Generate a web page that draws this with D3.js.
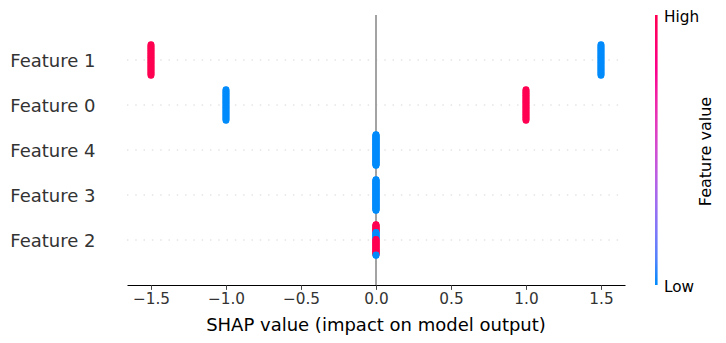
<!DOCTYPE html>
<html>
<head>
<meta charset="utf-8">
<script src="https://cdn.jsdelivr.net/npm/d3@7"></script>
<style>
  body { margin: 0; background: #fff; }
  svg { display: block; font-family: "DejaVu Sans", sans-serif; }
</style>
</head>
<body>
<svg id="chart"></svg>
<script>
const width = 726;
const height = 343;

// features from top to bottom (mean |SHAP| order)
const features = ["Feature 1", "Feature 0", "Feature 4", "Feature 3", "Feature 2"];

// point groups per feature: [shap value, feature value (0 low .. 1 high), number of points]
// groups of the same feature and same shap value are stacked top to bottom in this order
const groupsF1 = [[-1.5, 1, 50], [1.5, 0, 50]];
const groupsF0 = [[-1.0, 0, 50], [1.0, 1, 50]];
const groupsF4 = [[0, 0, 100]];
const groupsF3 = [[0, 0, 100]];
const groupsF2 = [[0, 1, 25], [0, 0, 22], [0, 1, 50], [0, 0, 3]];
const featureGroups = [groupsF1, groupsF0, groupsF4, groupsF3, groupsF2];

const xTicks = [-1.5, -1.0, -0.5, 0.0, 0.5, 1.0, 1.5];
const xLabel = "SHAP value (impact on model output)";
const colorLabel = "Feature value";
const colorLow = "Low";
const colorHigh = "High";

const margin = { top: 15, right: 101, bottom: 58, left: 127 };

const svg = d3.select("#chart").attr("width", width).attr("height", height);

const x = d3.scaleLinear()
  .domain([-1.66, 1.66])
  .range([margin.left, width - margin.right]);

// row index: bottom feature = 0
const y = d3.scaleLinear()
  .domain([-1, features.length])
  .range([height - margin.bottom, margin.top]);

const rowY = (i) => y(features.length - 1 - i);

const color = d3.interpolateHcl("#008bfb", "#ff0052");

// dotted row guides
svg.append("g")
  .selectAll("line")
  .data(features)
  .join("line")
  .attr("x1", margin.left)
  .attr("x2", width - margin.right)
  .attr("y1", (d, i) => rowY(i))
  .attr("y2", (d, i) => rowY(i))
  .attr("stroke", "#cccccc")
  .attr("stroke-width", 0.8)
  .attr("stroke-dasharray", "1.4 6.9");

// zero line
svg.append("line")
  .attr("x1", x(0)).attr("x2", x(0))
  .attr("y1", margin.top).attr("y2", height - margin.bottom)
  .attr("stroke", "#999999")
  .attr("stroke-width", 1.8);

// expand groups into stacked points
const spread = 0.345; // half height of a stack, in row units
const points = [];
featureGroups.forEach((groups, fi) => {
  const byShap = d3.group(groups, (g) => g[0]);
  byShap.forEach((gs, shap) => {
    const total = d3.sum(gs, (g) => g[2]);
    let k = 0;
    gs.forEach((g) => {
      for (let j = 0; j < g[2]; j++, k++) {
        const off = total > 1 ? spread - (2 * spread * k) / (total - 1) : 0;
        points.push({ fi, shap, value: g[1], off });
      }
    });
  });
});

svg.append("g")
  .selectAll("circle")
  .data(points)
  .join("circle")
  .attr("cx", (d) => x(d.shap))
  .attr("cy", (d) => y(features.length - 1 - d.fi + d.off))
  .attr("r", 3.3)
  .attr("fill", (d) => color(d.value));

// x axis
const xAxis = svg.append("g")
  .attr("transform", `translate(0, ${height - margin.bottom})`)
  .call(d3.axisBottom(x).tickValues(xTicks).tickSize(4.9).tickSizeOuter(0)
    .tickFormat((d) => d3.format(".1f")(d).replace("-", "\u2212")));
xAxis.select(".domain").attr("stroke", "#000").attr("stroke-width", 1);
xAxis.selectAll(".tick line").attr("stroke", "#333333").attr("stroke-width", 0.9);
xAxis.selectAll(".tick text")
  .attr("fill", "#333333")
  .attr("font-size", "15.3px")
  .attr("font-family", "DejaVu Sans")
  .attr("y", 8.5);

svg.append("text")
  .attr("x", x(0))
  .attr("y", 324)
  .attr("text-anchor", "middle")
  .attr("dominant-baseline", "central")
  .attr("font-size", "18px")
  .attr("fill", "#000")
  .text(xLabel);

// y labels
svg.append("g")
  .selectAll("text")
  .data(features)
  .join("text")
  .attr("x", 95.5)
  .attr("y", (d, i) => rowY(i))
  .attr("text-anchor", "end")
  .attr("dominant-baseline", "central")
  .attr("font-size", "18px")
  .attr("fill", "#333333")
  .text((d) => d);

// colour bar
const defs = svg.append("defs");
const grad = defs.append("linearGradient")
  .attr("id", "cbar")
  .attr("x1", 0).attr("y1", 1).attr("x2", 0).attr("y2", 0);
d3.range(0, 1.0001, 0.1).forEach((t) => {
  grad.append("stop").attr("offset", t).attr("stop-color", color(t));
});

const cbX = 655;
svg.append("rect")
  .attr("x", cbX)
  .attr("y", margin.top)
  .attr("width", 2.6)
  .attr("height", height - margin.bottom - margin.top)
  .attr("fill", "url(#cbar)");

svg.append("text")
  .attr("x", 664)
  .attr("y", 17)
  .attr("dominant-baseline", "central")
  .attr("font-size", "15.3px")
  .attr("fill", "#000")
  .text(colorHigh);

svg.append("text")
  .attr("x", 664)
  .attr("y", 286.5)
  .attr("dominant-baseline", "central")
  .attr("font-size", "15.3px")
  .attr("fill", "#000")
  .text(colorLow);

svg.append("text")
  .attr("transform", `translate(705, 151.5) rotate(-90)`)
  .attr("text-anchor", "middle")
  .attr("dominant-baseline", "central")
  .attr("font-size", "16px")
  .attr("fill", "#000")
  .text(colorLabel);
</script>
</body>
</html>
